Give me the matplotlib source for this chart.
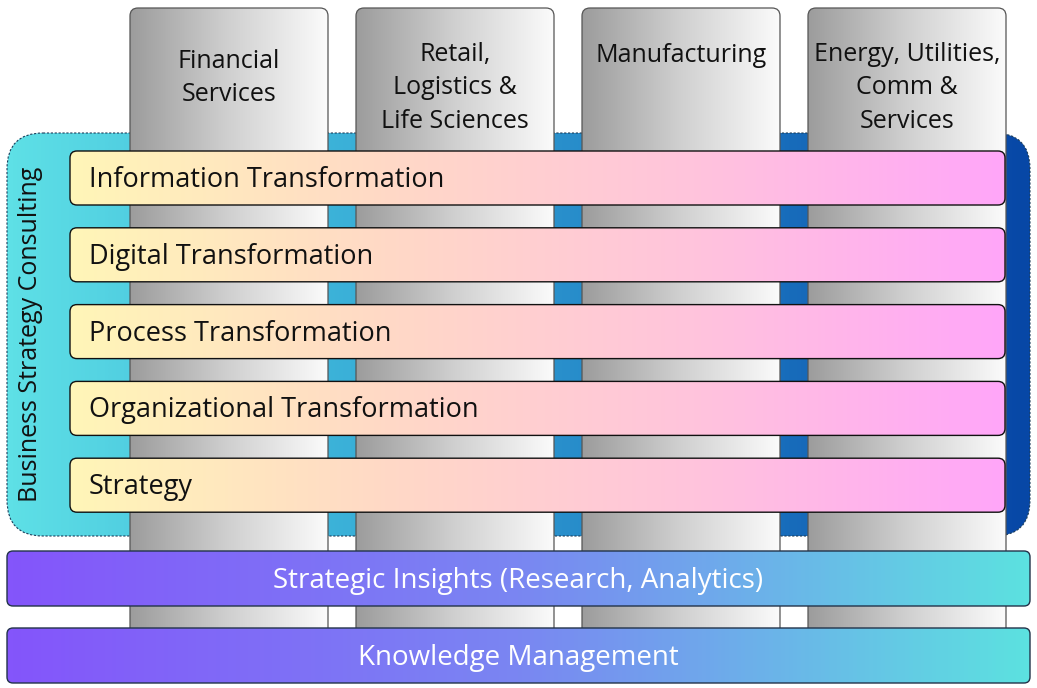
import numpy as np
import matplotlib.pyplot as plt
from matplotlib.patches import FancyBboxPatch
from matplotlib.colors import LinearSegmentedColormap

plt.rcParams['font.family'] = ['Open Sans', 'DejaVu Sans']

industries = ["Financial\nServices", "Retail,\nLogistics &\nLife Sciences",
              "Manufacturing", "Energy, Utilities,\nComm &\nServices"]
transformations = ["Information Transformation", "Digital Transformation",
                   "Process Transformation", "Organizational Transformation",
                   "Strategy"]
foundations = ["Strategic Insights (Research, Analytics)", "Knowledge Management"]
wrapper_label = "Business Strategy Consulting"

fig = plt.figure(figsize=(10.37, 6.88), dpi=100)
ax = fig.add_axes([0, 0, 1, 1])


def gradient_box(x, y, w, h, colors, r, ec, lw, ls='-', z=1):
    patch = FancyBboxPatch((x, y), w, h, boxstyle=f"round,pad=0,rounding_size={r}",
                           fc='none', ec=ec, lw=lw, ls=ls, zorder=z + 0.1)
    ax.add_patch(patch)
    cmap = LinearSegmentedColormap.from_list('g', colors)
    grad = np.linspace(0, 1, 256).reshape(1, -1)
    im = ax.imshow(grad, cmap=cmap, extent=[x, x + w, y + h, y], aspect='auto',
                   zorder=z, interpolation='bilinear')
    im.set_clip_path(patch)


# outer consulting box
gradient_box(7, 133, 1023, 403, ['#5ee0e6', '#3ab0d8', '#1f7cc4', '#0747a6'],
             36, '#1c3d5a', 0.8, ls=(0, (2, 1.5)), z=1)

# industry columns
label_y = [78, 88, 55, 88]
for i, name in enumerate(industries):
    x0 = 130 + i * 226
    gradient_box(x0, 8, 198, 640, ['#9c9c9c', '#d0d0d0', '#fbfbfb'], 8, '#555555', 0.9, z=2)
    ax.text(x0 + 99, label_y[i], name, ha='center', va='center', fontsize=18,
            color='#111111', linespacing=1.45, zorder=5)

# transformation bands
for i, name in enumerate(transformations):
    y0 = 151 + i * 76.8
    gradient_box(70, y0, 935, 54, ['#fff6b8', '#ffd9c6', '#ffc4dc', '#ffa6f9'],
                 7, '#111111', 1.0, z=3)
    ax.text(89, y0 + 29, name, ha='left', va='center', fontsize=19.5,
            color='#111111', zorder=5)

ax.text(31, 334, wrapper_label, rotation=90, ha='center', va='center',
        fontsize=18, color='#111111', zorder=5)

# foundation bands
for i, name in enumerate(foundations):
    y0 = 551 + i * 77
    gradient_box(7, y0, 1023, 55, ['#8455fb', '#7a86f2', '#5ce1e0'],
                 6, '#22334a', 1.0, z=3)
    ax.text(518, y0 + 30, name, ha='center', va='center', fontsize=20,
            color='white', zorder=5)

ax.set_xlim(0, 1037)
ax.set_ylim(688, 0)
ax.axis('off')
fig.savefig('out.png', dpi=100)
